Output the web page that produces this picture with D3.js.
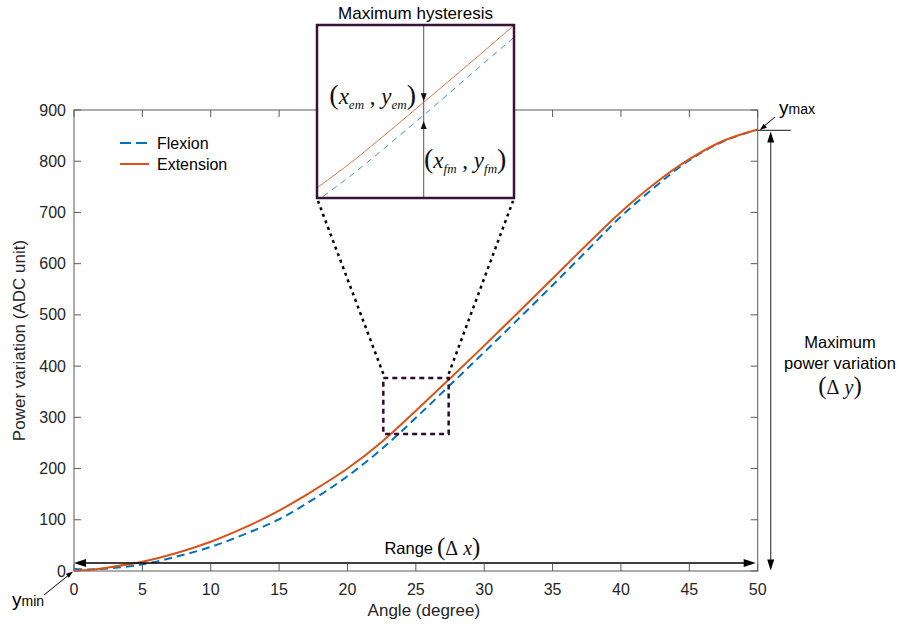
<!DOCTYPE html>
<html>
<head>
<meta charset="utf-8">
<script src="https://cdn.jsdelivr.net/npm/d3@7"></script>
<style>
  html, body { margin: 0; padding: 0; background: #fff; }
  svg { display: block; }
  text { font-family: "Liberation Sans", Arial, Helvetica, sans-serif; }
  .math { font-family: "Liberation Serif", "DejaVu Serif", serif; }
</style>
</head>
<body>
<svg id="chart" width="906" height="629"></svg>
<script>
// ---------------- data ----------------
const angles    = [0, 1, 2.5, 5, 7.5, 10, 12.5, 15, 17.5, 20, 22.5, 25, 27.5, 30, 32.5, 35, 37.5, 40, 42.5, 45, 47.5, 50];
const flexion   = [4, 3, 5, 13, 28, 47, 72, 101, 140, 185, 238, 299, 363, 427, 492, 558, 625, 692, 750, 802, 839, 862];
const extension = [1, 2, 7, 18, 35, 57, 85, 118, 157, 200, 252, 313, 376, 440, 505, 571, 637, 701, 757, 804, 840, 862];
const xTicks = [0, 5, 10, 15, 20, 25, 30, 35, 40, 45, 50];
const yTicks = [0, 100, 200, 300, 400, 500, 600, 700, 800, 900];
const seriesNames = ["Flexion", "Extension"];
const zoomX = [22.62, 27.4];      // dashed zoom box (angle)
const zoomY = [267.5, 377];       // dashed zoom box (ADC)
const insetX = [21.5, 28.7];      // inset view domain
const insetY = [219, 407];
const hysteresisAngle = 25.4;
const rangeArrowValue = 15.5;

// ---------------- layout ----------------
const svg = d3.select("#chart");
const plot = { left: 74, top: 110, right: 757.7, bottom: 571 };
const inset = { left: 317, top: 25, right: 514, bottom: 198 };
const axisColor = "#5a5a5a";
const textColor = "#262626";
const blue = "#0072BD", orange = "#D95319";

const x = d3.scaleLinear().domain([0, 50]).range([plot.left, plot.right]);
const y = d3.scaleLinear().domain([0, 900]).range([plot.bottom, plot.top]);

const defs = svg.append("defs");
defs.append("clipPath").attr("id", "plotClip").append("rect")
  .attr("x", plot.left).attr("y", plot.top)
  .attr("width", plot.right - plot.left).attr("height", plot.bottom - plot.top);
defs.append("clipPath").attr("id", "insetClip").append("rect")
  .attr("x", inset.left).attr("y", inset.top)
  .attr("width", inset.right - inset.left).attr("height", inset.bottom - inset.top);

function interp(arr, a) {
  const i = d3.bisectRight(angles, a) - 1;
  const j = Math.min(i + 1, angles.length - 1);
  if (i === j) return arr[i];
  const t = (a - angles[i]) / (angles[j] - angles[i]);
  return arr[i] + t * (arr[j] - arr[i]);
}

function arrowHead(g, tipX, tipY, dx, dy, len, wid, color) {
  const n = Math.hypot(dx, dy); const ux = dx / n, uy = dy / n;
  const bx = tipX - ux * len, by = tipY - uy * len;
  const px = -uy * wid / 2, py = ux * wid / 2;
  g.append("path")
    .attr("d", `M${tipX},${tipY}L${bx + px},${by + py}L${bx - px},${by - py}Z`)
    .attr("fill", color);
}

// ---------------- axes box ----------------
const axes = svg.append("g");
axes.append("rect")
  .attr("x", plot.left).attr("y", plot.top)
  .attr("width", plot.right - plot.left).attr("height", plot.bottom - plot.top)
  .attr("fill", "none").attr("stroke", axisColor).attr("stroke-width", 1);

const tickLen = 7;
xTicks.forEach(t => {
  axes.append("line").attr("x1", x(t)).attr("x2", x(t)).attr("y1", plot.bottom).attr("y2", plot.bottom - tickLen)
    .attr("stroke", axisColor);
  axes.append("line").attr("x1", x(t)).attr("x2", x(t)).attr("y1", plot.top).attr("y2", plot.top + tickLen)
    .attr("stroke", axisColor);
  axes.append("text").attr("x", x(t)).attr("y", plot.bottom + 24)
    .attr("text-anchor", "middle").attr("font-size", 16).attr("fill", textColor).text(t);
});
yTicks.forEach(t => {
  axes.append("line").attr("x1", plot.left).attr("x2", plot.left + tickLen).attr("y1", y(t)).attr("y2", y(t))
    .attr("stroke", axisColor);
  axes.append("line").attr("x1", plot.right).attr("x2", plot.right - tickLen).attr("y1", y(t)).attr("y2", y(t))
    .attr("stroke", axisColor);
  axes.append("text").attr("x", plot.left - 8).attr("y", y(t)).attr("dy", "0.35em")
    .attr("text-anchor", "end").attr("font-size", 16).attr("fill", textColor).text(t);
});

svg.append("text").attr("x", (plot.left + plot.right) / 2 + 8).attr("y", 616)
  .attr("text-anchor", "middle").attr("font-size", 17).attr("fill", textColor).text("Angle (degree)");
svg.append("text")
  .attr("transform", `translate(25,${(plot.top + plot.bottom) / 2}) rotate(-90)`)
  .attr("text-anchor", "middle").attr("font-size", 17).attr("fill", textColor).text("Power variation (ADC unit)");

// ---------------- series ----------------
const line = (arr, xs, ys) => d3.line().curve(d3.curveCatmullRom.alpha(0.5))
  .x((d, i) => xs(angles[i])).y(d => ys(d))(arr);

const lines = svg.append("g").attr("clip-path", "url(#plotClip)");
lines.append("path").attr("d", line(flexion, x, y)).attr("fill", "none")
  .attr("stroke", blue).attr("stroke-width", 2).attr("stroke-dasharray", "8,5");
lines.append("path").attr("d", line(extension, x, y)).attr("fill", "none")
  .attr("stroke", orange).attr("stroke-width", 2);

// ---------------- legend ----------------
const leg = svg.append("g");
[[blue, "11,5"], [orange, null]].forEach((s, i) => {
  const ly = 143 + i * 21;
  const l = leg.append("line").attr("x1", 120).attr("x2", 149).attr("y1", ly).attr("y2", ly)
    .attr("stroke", s[0]).attr("stroke-width", 2);
  if (s[1]) l.attr("stroke-dasharray", s[1]);
  leg.append("text").attr("x", 157).attr("y", ly).attr("dy", "0.36em")
    .attr("font-size", 16).attr("fill", "#000").text(seriesNames[i]);
});

// ---------------- zoom box & connectors ----------------
const zoomCol = "#2d0a2d";
svg.append("rect")
  .attr("x", x(zoomX[0])).attr("y", y(zoomY[1]))
  .attr("width", x(zoomX[1]) - x(zoomX[0])).attr("height", y(zoomY[0]) - y(zoomY[1]))
  .attr("fill", "none").attr("stroke", zoomCol).attr("stroke-width", 2.5).attr("stroke-dasharray", "5,4");
svg.append("line").attr("x1", x(zoomX[0])).attr("y1", y(zoomY[1]) - 4).attr("x2", inset.left + 1).attr("y2", inset.bottom + 3)
  .attr("stroke", "#000").attr("stroke-width", 2.5).attr("stroke-dasharray", "3,4");
svg.append("line").attr("x1", x(zoomX[1])).attr("y1", y(zoomY[1]) - 4).attr("x2", inset.right - 1).attr("y2", inset.bottom + 3)
  .attr("stroke", "#000").attr("stroke-width", 2.5).attr("stroke-dasharray", "3,4");

// ---------------- inset ----------------
const ix = d3.scaleLinear().domain(insetX).range([inset.left, inset.right]);
const iy = d3.scaleLinear().domain(insetY).range([inset.bottom, inset.top]);
const ig = svg.append("g");
ig.append("rect").attr("x", inset.left).attr("y", inset.top)
  .attr("width", inset.right - inset.left).attr("height", inset.bottom - inset.top).attr("fill", "#fff");
const il = ig.append("g").attr("clip-path", "url(#insetClip)");
il.append("path").attr("d", line(flexion, ix, iy)).attr("fill", "none")
  .attr("stroke", "#3d96c4").attr("stroke-width", 1).attr("stroke-dasharray", "6,5");
il.append("path").attr("d", line(extension, ix, iy)).attr("fill", "none")
  .attr("stroke", "#d97a50").attr("stroke-width", 1);
// hysteresis marker
const hx = ix(hysteresisAngle);
const emY = iy(interp(extension, hysteresisAngle));
const fmY = iy(interp(flexion, hysteresisAngle));
il.append("line").attr("x1", hx).attr("x2", hx).attr("y1", inset.top).attr("y2", inset.bottom)
  .attr("stroke", "#555").attr("stroke-width", 1);
arrowHead(il, hx, emY - 1, 0, 1, 8, 6, "#111");
arrowHead(il, hx, fmY + 6, 0, -1, 8, 6, "#111");
ig.append("rect").attr("x", inset.left).attr("y", inset.top)
  .attr("width", inset.right - inset.left).attr("height", inset.bottom - inset.top)
  .attr("fill", "none").attr("stroke", "#3a1238").attr("stroke-width", 2.5);
ig.append("text").attr("x", (inset.left + inset.right) / 2).attr("y", 19)
  .attr("text-anchor", "middle").attr("font-size", 17).attr("fill", "#000").text("Maximum hysteresis");

// math label helper
function mathLabel(parent, px, py, anchor, parts, size) {
  const t = parent.append("text").attr("class", "math").attr("x", px).attr("y", py)
    .attr("text-anchor", anchor).attr("fill", "#111");
  parts.forEach(p => {
    const s = t.append("tspan").text(p.t);
    s.attr("font-size", p.sz || size);
    if (p.it) s.attr("font-style", "italic");
    if (p.dy) s.attr("dy", p.dy);
  });
  return t;
}
const P = 28;
mathLabel(ig, 416, 104, "end", [
  { t: "(", sz: P }, { t: "x", it: true }, { t: "em", it: true, sz: 13, dy: 5 }, { t: " ,", dy: -5 },
  { t: " y", it: true }, { t: "em", it: true, sz: 13, dy: 5 }, { t: ")", sz: P, dy: -5 }
], 23);
mathLabel(ig, 424, 168, "start", [
  { t: "(", sz: P }, { t: "x", it: true }, { t: "fm", it: true, sz: 13, dy: 5 }, { t: " ,", dy: -5 },
  { t: " y", it: true }, { t: "fm", it: true, sz: 13, dy: 5 }, { t: ")", sz: P, dy: -5 }
], 23);

// ---------------- annotations ----------------
const ann = svg.append("g");
const yMaxVal = d3.max(extension), yMinVal = d3.min(extension);
// Range arrow
const ry = y(rangeArrowValue);
ann.append("line").attr("x1", x(0) + 10).attr("x2", x(50) - 12).attr("y1", ry).attr("y2", ry)
  .attr("stroke", "#000").attr("stroke-width", 1.5);
arrowHead(ann, x(0), ry, -1, 0, 12, 8, "#000");
arrowHead(ann, x(50) - 2, ry, 1, 0, 12, 8, "#000");
ann.append("text").attr("x", 433).attr("y", 554).attr("text-anchor", "end")
  .attr("font-size", 16.5).attr("fill", "#000").text("Range");
mathLabel(ann, 437, 555, "start", [{ t: "(", sz: 25 }, { t: "Δ" }, { t: " x", it: true }, { t: ")", sz: 25 }], 20);

// Max power variation arrow
const vx = x(50) + 13;
ann.append("line").attr("x1", x(50)).attr("x2", x(50) + 33).attr("y1", y(yMaxVal) + 1).attr("y2", y(yMaxVal) + 1)
  .attr("stroke", "#444").attr("stroke-width", 1.2);
ann.append("line").attr("x1", vx).attr("x2", vx).attr("y1", y(yMaxVal) + 8).attr("y2", y(yMinVal) - 8)
  .attr("stroke", "#444").attr("stroke-width", 1.2);
arrowHead(ann, vx, y(yMaxVal) + 2, 0, -1, 11, 7, "#000");
arrowHead(ann, vx, y(yMinVal), 0, 1, 11, 7, "#000");
ann.append("text").attr("x", 840).attr("y", 348).attr("text-anchor", "middle")
  .attr("font-size", 16.5).attr("fill", "#000").text("Maximum");
ann.append("text").attr("x", 840).attr("y", 369).attr("text-anchor", "middle")
  .attr("font-size", 16.5).attr("fill", "#000").text("power variation");
mathLabel(ann, 840, 394, "middle", [{ t: "(", sz: 25 }, { t: "Δ" }, { t: " y", it: true }, { t: ")", sz: 25 }], 20);

// y_max label
ann.append("line").attr("x1", 775).attr("y1", 117).attr("x2", x(50) + 6).attr("y2", y(yMaxVal) - 3)
  .attr("stroke", "#000").attr("stroke-width", 1);
arrowHead(ann, x(50) + 2, y(yMaxVal) + 0.5, -1, 0.75, 7, 5, "#000");
const ymx = ann.append("text").attr("x", 779).attr("y", 114).attr("fill", "#000");
ymx.append("tspan").attr("font-size", 19).text("y");
ymx.append("tspan").attr("font-size", 14).text("max");

// y_min label
ann.append("line").attr("x1", 44).attr("y1", 595).attr("x2", x(0) - 4).attr("y2", y(0) + 3)
  .attr("stroke", "#000").attr("stroke-width", 1);
arrowHead(ann, x(0) - 1, y(0) + 0.5, 1, -0.75, 7, 5, "#000");
const ymn = ann.append("text").attr("x", 12).attr("y", 606).attr("fill", "#000");
ymn.append("tspan").attr("font-size", 19).text("y");
ymn.append("tspan").attr("font-size", 14).text("min");
</script>
</body>
</html>
